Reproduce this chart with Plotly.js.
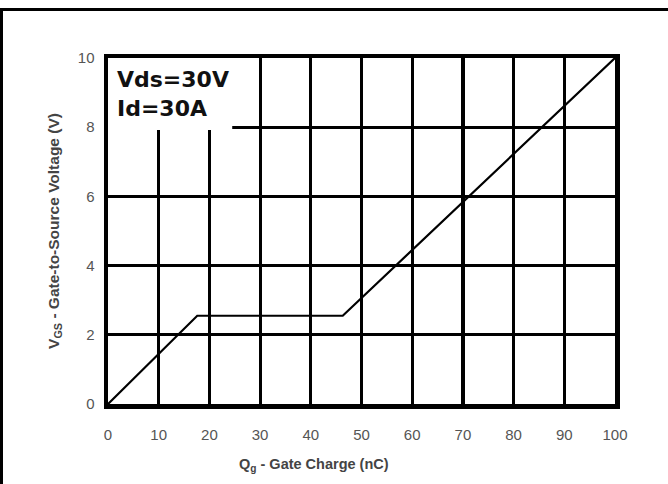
<!DOCTYPE html>
<html>
<head>
<meta charset="utf-8">
<script src="https://cdn.plot.ly/plotly-3.0.1.min.js"></script>
<style>
html,body{margin:0;padding:0;background:#fff;}
#wrap{position:relative;width:668px;height:484px;overflow:hidden;}
#chart{position:absolute;left:0;top:0;width:668px;height:484px;}
#bl{position:absolute;left:0;top:8px;width:3px;height:476px;background:#000;}
#bt{position:absolute;left:0;top:8px;width:668px;height:3px;background:#000;}
</style>
</head>
<body>
<div id="wrap"><div id="chart"></div><div id="bl"></div><div id="bt"></div></div>
<script>
const gateCharge = [0, 17.6, 46.3, 100];
const gateVoltage = [0, 2.55, 2.55, 10];
const xTicks = [0,10,20,30,40,50,60,70,80,90,100];
const yTicks = [0,2,4,6,8,10];
const noteLines = ['Vds=30V', 'Id=30A'];
const xTitle = 'Q<sub>g</sub> - Gate Charge (nC)';
const yTitle = 'V<sub>GS</sub> - Gate-to-Source Voltage (V)';

const FONT = 'Liberation Sans, Arial, sans-serif';

const trace = {
  x: gateCharge, y: gateVoltage, mode: 'lines', type: 'scatter',
  line: {color: '#000', width: 2.2}, hoverinfo: 'skip'
};

const layout = {
  width: 668, height: 484,
  margin: {l: 108, r: 53, t: 58, b: 80},
  paper_bgcolor: '#fff', plot_bgcolor: '#fff',
  showlegend: false,
  xaxis: {
    range: [0, 100], tickvals: xTicks, ticktext: xTicks.map(String),
    showgrid: true, gridcolor: '#000', gridwidth: 3.2,
    showline: true, linecolor: '#000', linewidth: 4.5, mirror: true,
    zeroline: false, ticks: '', ticklabelstandoff: 13,
    tickfont: {family: FONT, size: 15, color: '#555'}
  },
  yaxis: {
    range: [0, 10], tickvals: yTicks, ticktext: yTicks.map(String),
    showgrid: true, gridcolor: '#000', gridwidth: 3.2,
    showline: true, linecolor: '#000', linewidth: 4.5, mirror: true,
    zeroline: false, ticks: '', ticklabelstandoff: 6,
    tickfont: {family: FONT, size: 15, color: '#555'},
    title: {text: yTitle, standoff: 16,
      font: {family: FONT, size: 15.5, color: '#444', weight: 'bold'}}
  },
  shapes: [{
    type: 'rect', xref: 'x', yref: 'y', x0: 0, x1: 24.5, y0: 7.92, y1: 10,
    fillcolor: '#fff', line: {width: 0}, layer: 'between'
  }],
  annotations: [{
    xref: 'x', yref: 'y', x: 1.4, y: 9.8, xanchor: 'left', yanchor: 'top',
    text: noteLines.join('<br>'), showarrow: false, align: 'left',
    font: {family: 'DejaVu Sans, sans-serif', size: 22, color: '#111', weight: 'bold'}
  }, {
    xref: 'paper', yref: 'paper', x: 0.406, y: -0.176, xanchor: 'center', yanchor: 'middle',
    text: xTitle, showarrow: false,
    font: {family: FONT, size: 14.5, color: '#444', weight: 'bold'}
  }]
};

Plotly.newPlot('chart', [trace], layout, {staticPlot: true, displayModeBar: false});
</script>
</body>
</html>
